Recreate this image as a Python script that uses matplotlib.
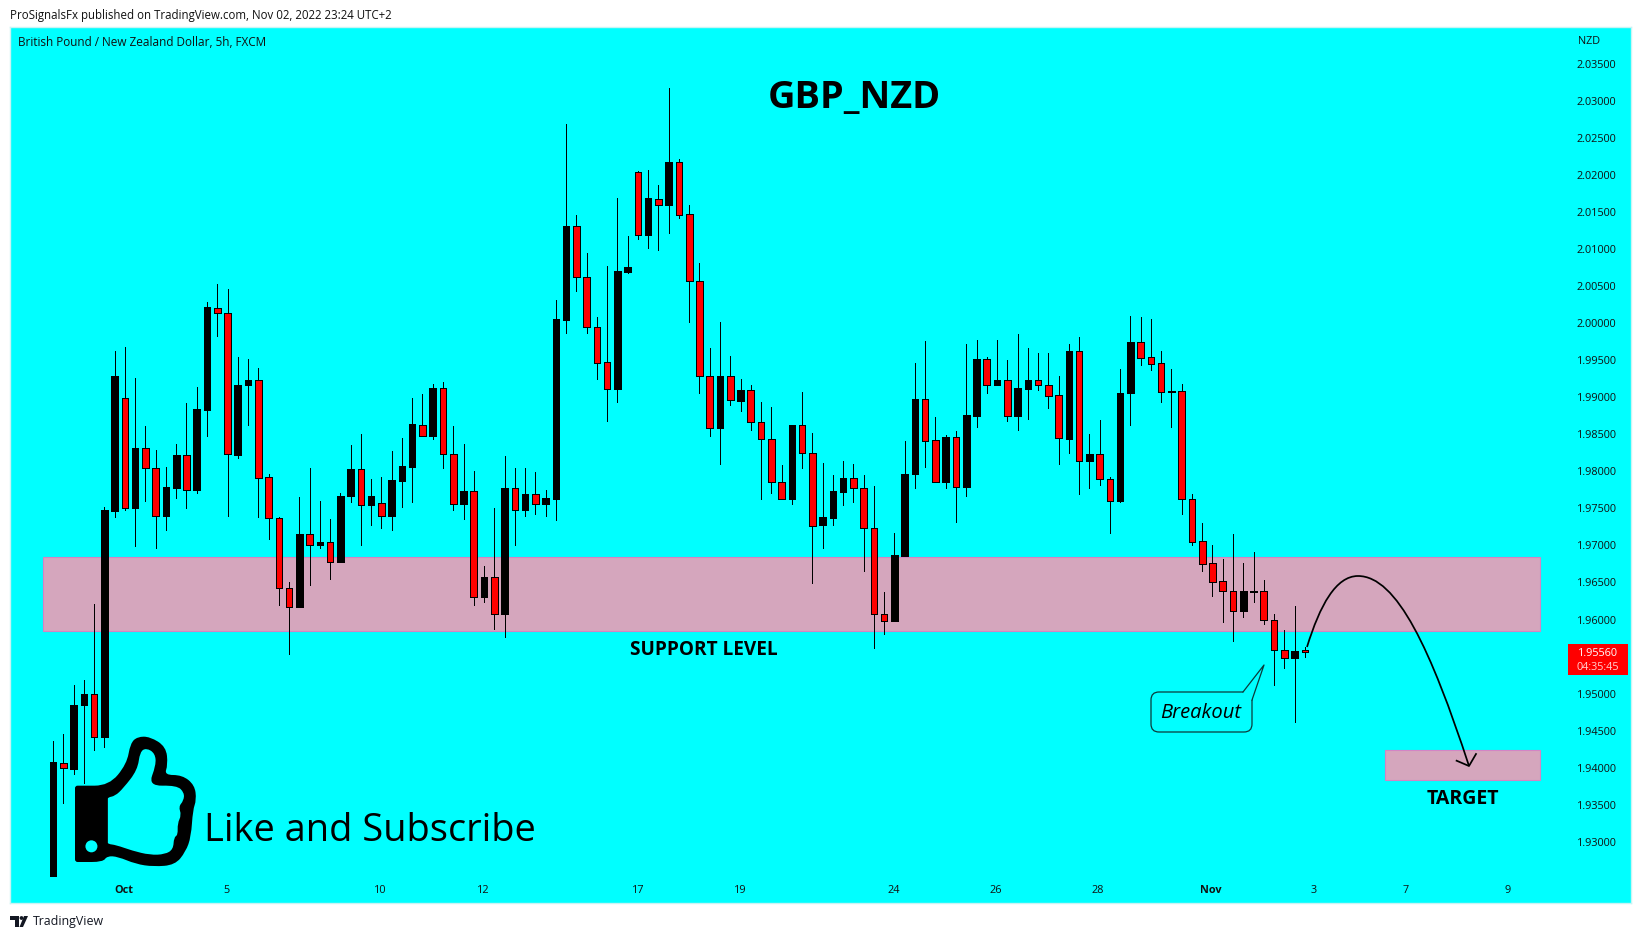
#!/usr/bin/env python
import matplotlib
matplotlib.use('Agg')
import matplotlib.pyplot as plt
from matplotlib.patches import PathPatch, Circle, FancyBboxPatch, Polygon, Rectangle
from matplotlib.path import Path

W, H = 1642, 939

# candles, GBP/NZD 5h
opens = [1.9254,1.9407,1.9398,1.9484,1.9499,1.9442,1.9747,1.9899,1.9751,1.9831,1.9805,1.9740,1.9778,1.9822,1.9775,1.9883,2.0021,2.0013,1.9822,1.9916,1.9923,1.9792,1.9737,1.9642,1.9617,1.9715,1.9701,1.9704,1.9678,1.9766,1.9803,1.9755,1.9757,1.9740,1.9787,1.9806,
1.9863,1.9848,1.9912,1.9824,1.9756,1.9774,1.9631,1.9657,1.9608,1.9777,1.9748,1.9770,1.9756,1.9763,2.0004,2.0131,2.0062,1.9995,1.9947,1.9911,2.0069,2.0204,2.0119,2.0168,2.0160,2.0217,2.0147,2.0057,1.9928,1.9859,1.9929,1.9895,1.9910,1.9866,1.9844,1.9786,1.9762,1.9862,1.9825,
1.9727,1.9737,1.9772,1.9791,1.9777,1.9724,1.9607,1.9598,1.9686,1.9797,1.9897,1.9842,1.9785,1.9846,1.9779,1.9875,1.9951,1.9917,1.9923,1.9874,1.9911,1.9923,1.9916,1.9903,1.9844,1.9963,1.9814,1.9823,1.9789,1.9760,1.9905,1.9974,1.9954,1.9946,1.9907,1.9908,1.9762,1.9706,1.9676,1.9652,1.9638,1.9612,1.9637,1.9638,1.9599,1.9559,1.9548,1.9559]
highs = [1.9436,1.9446,1.9511,1.9518,1.9621,1.9752,1.9962,1.9968,1.9926,1.9861,1.9829,1.9806,1.9837,1.9892,1.9914,2.0028,2.0053,2.0046,1.9954,1.9952,1.9939,1.9796,1.9738,1.9651,1.9765,1.9804,1.9760,1.9736,1.9771,1.9835,1.9850,1.9790,1.9792,1.9827,1.9845,1.9899,
1.9904,1.9918,1.9920,1.9861,1.9837,1.9801,1.9672,1.9751,1.9820,1.9805,1.9805,1.9799,1.9775,2.0031,2.0269,2.0146,2.0095,2.0008,2.0077,2.0169,2.0117,2.0205,2.0206,2.0186,2.0317,2.0222,2.0160,2.0081,1.9967,2.0002,1.9956,1.9925,1.9916,1.9893,1.9887,1.9809,1.9863,1.9907,1.9852,
1.9811,1.9795,1.9814,1.9810,1.9795,1.9780,1.9637,1.9717,1.9841,1.9946,1.9976,1.9873,1.9849,1.9855,1.9972,1.9977,1.9954,1.9977,1.9950,1.9985,1.9966,1.9960,1.9960,1.9929,1.9972,1.9981,1.9851,1.9869,1.9792,1.9938,2.0010,2.0008,2.0006,1.9962,1.9938,1.9918,1.9769,1.9730,1.9701,1.9681,1.9716,1.9676,1.9691,1.9653,1.9607,1.9586,1.9618,1.9563]
lows = [1.9254,1.9353,1.9391,1.9380,1.9424,1.9428,1.9739,1.9748,1.9699,1.9760,1.9697,1.9721,1.9764,1.9750,1.9771,1.9847,1.9983,1.9740,1.9818,1.9863,1.9739,1.9708,1.9620,1.9553,1.9617,1.9646,1.9697,1.9655,1.9677,1.9758,1.9700,1.9728,1.9724,1.9721,1.9752,1.9759,
1.9848,1.9844,1.9805,1.9748,1.9736,1.9620,1.9624,1.9587,1.9576,1.9701,1.9740,1.9743,1.9740,1.9734,1.9987,2.0043,1.9986,1.9924,1.9868,1.9894,2.0068,2.0114,2.0102,2.0098,2.0122,2.0142,2.0002,1.9905,1.9847,1.9810,1.9890,1.9882,1.9856,1.9762,1.9771,1.9762,1.9756,1.9805,1.9649,
1.9696,1.9728,1.9755,1.9759,1.9665,1.9561,1.9581,1.9598,1.9686,1.9777,1.9806,1.9785,1.9778,1.9732,1.9766,1.9860,1.9905,1.9916,1.9868,1.9856,1.9871,1.9910,1.9886,1.9810,1.9825,1.9770,1.9777,1.9782,1.9717,1.9758,1.9862,1.9943,1.9937,1.9893,1.9860,1.9743,1.9701,1.9665,1.9632,1.9596,1.9571,1.9604,1.9624,1.9594,1.9512,1.9534,1.9461,1.9550]
closes = [1.9408,1.9399,1.9484,1.9499,1.9442,1.9748,1.9929,1.9751,1.9831,1.9805,1.9740,1.9779,1.9822,1.9775,1.9884,2.0022,2.0013,1.9823,1.9916,1.9923,1.9791,1.9737,1.9642,1.9617,1.9715,1.9701,1.9705,1.9678,1.9767,1.9803,1.9755,1.9767,1.9740,1.9788,1.9807,1.9864,
1.9848,1.9912,1.9824,1.9756,1.9774,1.9631,1.9657,1.9608,1.9777,1.9748,1.9770,1.9756,1.9764,2.0005,2.0131,2.0062,1.9995,1.9946,1.9911,2.0070,2.0076,2.0119,2.0169,2.0160,2.0218,2.0146,2.0057,1.9928,1.9859,1.9929,1.9896,1.9910,1.9866,1.9844,1.9786,1.9762,1.9862,1.9825,1.9726,
1.9738,1.9773,1.9791,1.9777,1.9724,1.9607,1.9598,1.9687,1.9797,1.9898,1.9841,1.9785,1.9846,1.9779,1.9876,1.9951,1.9917,1.9923,1.9874,1.9912,1.9923,1.9916,1.9902,1.9845,1.9963,1.9814,1.9823,1.9789,1.9760,1.9905,1.9974,1.9953,1.9945,1.9907,1.9908,1.9762,1.9705,1.9675,1.9651,1.9638,1.9612,1.9638,1.9638,1.9599,1.9559,1.9548,1.9558,1.9556]

# 1.95500 sits behind the last price tag
price_ticks = [1.93,1.935,1.94,1.945,1.95,1.96,1.965,1.97,1.975,1.98,1.985,1.99,1.995,2.0,2.005,2.01,2.015,2.02,2.025,2.03,2.035]
date_pos = [6.85,16.85,31.9,41.9,57.05,66.95,81.95,91.85,101.85,112.85,122.85,131.85,141.75]
date_labels = ['Oct','5','10','12','17','19','24','26','28','Nov','3','7','9']
support_zone = (1.9585, 1.9684)
target_zone = (1.9384, 1.9424)

CYAN = '#00ffff'
RED = '#ff0000'
ZONE = '#d5a6bd'
EDGE = '#d484c4'
FONT = 'Open Sans'

plt.rcParams['font.family'] = FONT

fig = plt.figure(figsize=(W/100, H/100), dpi=100, facecolor='white')
# panel in pixels
left, right, top, bottom = 10, 1631, 27, 903
ax = fig.add_axes([left/W, 1-bottom/H, (right-left)/W, (bottom-top)/H], facecolor=CYAN)
ax.set_xlim((left-53.1)/10.26, (right-53.1)/10.26)
ax.set_ylim(2-(bottom-323.1)/7410, 2+(323.1-top)/7410)
for s in ax.spines.values():
    s.set_color('#c8f4f4')
    s.set_linewidth(1)

ax.add_patch(Rectangle((-0.95, support_zone[0]), 145.9, support_zone[1]-support_zone[0], fc=ZONE, ec=EDGE, lw=0.8, zorder=1))
ax.add_patch(Rectangle((129.85, target_zone[0]), 15.1, target_zone[1]-target_zone[0], fc=ZONE, ec=EDGE, lw=0.8, zorder=1))

for i in range(len(opens)):
    o, h, l, c = opens[i], highs[i], lows[i], closes[i]
    up = c > o
    ax.vlines(i, l, h, color='black', lw=0.7, zorder=2, antialiased=False)
    ax.bar(i, abs(c-o), bottom=min(o, c), width=0.64, color='black' if up else RED,
           edgecolor='black', linewidth=0.7, zorder=3, antialiased=False)

ax.yaxis.tick_right()
ax.set_yticks(price_ticks)
ax.set_yticklabels(['%.5f' % p for p in price_ticks], fontsize=7.8, color='#111111')
ax.set_xticks(date_pos)
ax.set_xticklabels(date_labels, fontsize=7.8, color='#111111')
for lab in ax.get_xticklabels():
    if lab.get_text() in ('Oct', 'Nov'):
        lab.set_fontweight('bold')
ax.tick_params(axis='x', direction='in', length=0, pad=-13)
ax.tick_params(axis='y', direction='in', length=0, pad=-39)

# overlay in pixel coordinates for the drawings and text
ov = fig.add_axes([0, 0, 1, 1], facecolor='none')
ov.set_xlim(0, W)
ov.set_ylim(H, 0)
ov.axis('off')

ov.text(10, 16, 'ProSignalsFx published on TradingView.com, Nov 02, 2022 23:24 UTC+2', fontsize=8.3, va='center', color='#111111')
ov.text(18, 42, 'British Pound / New Zealand Dollar, 5h, FXCM', fontsize=8.45, va='center', color='#111111')
ov.text(1578, 41.5, 'NZD', fontsize=7.8, va='center', color='#111111')
ov.text(854, 98, 'GBP_NZD', fontsize=27.3, fontweight='bold', ha='center', va='center', color='black')
ov.text(704, 650, 'SUPPORT LEVEL', fontsize=13.7, fontweight='bold', ha='center', va='center', color='black')
ov.text(1463, 799, 'TARGET', fontsize=14, fontweight='bold', ha='center', va='center', color='black')

# last price tag
ov.add_patch(Rectangle((1568, 644), 60, 31, fc=RED, ec='none'))
ov.text(1598, 654, '1.95560', fontsize=7.8, color='white', ha='center', va='center')
ov.text(1598, 667, '04:35:45', fontsize=7.8, color='#ffd0d0', ha='center', va='center')

# breakout callout
ov.add_patch(FancyBboxPatch((1151, 692), 101, 40, boxstyle='round,pad=0,rounding_size=8', fc=CYAN, ec='#0b3b3b', lw=0.9))
ov.add_patch(Polygon([(1243, 692.6), (1264, 665), (1252, 700), (1248, 700)], fc=CYAN, ec='none', zorder=3))
ov.plot([1243, 1264, 1252], [692, 665, 700], color='#0b3b3b', lw=0.9, zorder=4)
ov.text(1201, 713, 'Breakout', fontsize=14.5, style='italic', ha='center', va='center', color='black', zorder=5)

# projected path
curve = Path([(1307, 647), (1320, 605), (1336, 576), (1358, 576), (1397, 576), (1431, 650), (1469, 766)],
             [Path.MOVETO, Path.CURVE4, Path.CURVE4, Path.CURVE4, Path.CURVE4, Path.CURVE4, Path.CURVE4])
ov.add_patch(PathPatch(curve, fc='none', ec='black', lw=1.25, zorder=5))
ov.plot([1456.6, 1469, 1476], [760.7, 766, 754], color='black', lw=1.25, zorder=5)


def smooth(pts):
    # closed smooth outline through the midpoints of pts
    verts = [((pts[-1][0]+pts[0][0])/2, (pts[-1][1]+pts[0][1])/2)]
    codes = [Path.MOVETO]
    for j, p in enumerate(pts):
        q = pts[(j+1) % len(pts)]
        verts += [p, ((p[0]+q[0])/2, (p[1]+q[1])/2)]
        codes += [Path.CURVE3, Path.CURVE3]
    return Path(verts, codes)


def thumb(pts):
    return [(x/2.8, 640+y/3) for x, y in pts]


outer = [(210,452),(210,437),(225,437),(305,437),(355,372),(365,310),(385,290),(420,290),(465,320),(470,375),(460,405),(510,405),(545,435),(550,480),(540,510),(535,590),(520,635),(490,675),(430,680),(380,672),(330,650),(300,648),(288,666),(225,666),(210,666),(210,650)]
inner = [(302,480),(302,472),(322,468),(345,445),(385,390),(392,335),(410,324),(434,340),(437,375),(415,438),(495,436),(516,458),(514,482),(500,500),(508,525),(497,550),(498,585),(487,592),(485,628),(462,643),(420,645),(370,632),(325,615),(302,612),(302,605)]
ov.add_patch(PathPatch(smooth(thumb(outer)), fc='black', ec='none', zorder=6))
ov.add_patch(PathPatch(smooth(thumb(inner)), fc=CYAN, ec='none', zorder=7))
ov.add_patch(Circle((256/2.8, 640+619/3), 6, fc=CYAN, ec='none', zorder=7))
ov.text(204, 831, 'Like and Subscribe', fontsize=27.4, ha='left', va='center', color='black', zorder=8)

# footer logo
ov.add_patch(Polygon([(10, 916), (19, 916), (19, 927), (15, 927), (15, 920), (10, 920)], fc='#131722', ec='none'))
ov.add_patch(Circle((21.5, 918), 1.9, fc='#131722', ec='none'))
ov.add_patch(Polygon([(24, 916), (28, 916), (23, 927), (19.5, 927)], fc='#131722', ec='none'))
ov.text(33, 921.5, 'TradingView', fontsize=8.9, va='center', color='#131722')

fig.savefig('out.png', dpi=100, facecolor='white')
